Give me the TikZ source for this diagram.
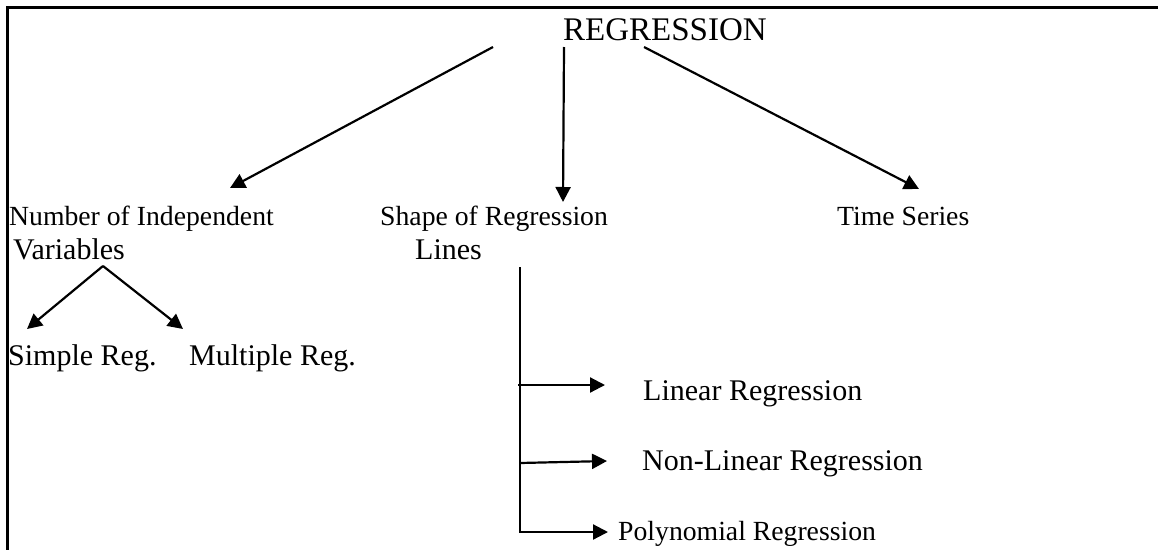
\documentclass[tikz,border=0pt]{standalone}
\usepackage{fontspec}
\setmainfont{Liberation Serif}
\usetikzlibrary{arrows.meta}
\begin{document}
\begin{tikzpicture}[x=1pt,y=-1pt,
  lbl/.style={anchor=base west,inner sep=0pt,font=\fontsize{30}{32}\selectfont},
  lbls/.style={anchor=base west,inner sep=0pt,font=\fontsize{27.7}{30}\selectfont},
  arr/.style={line width=2.2pt,-{Triangle[length=15pt,width=15pt]}},
  ln/.style={line width=2.2pt},
  frame/.style={line width=3pt}]
\useasboundingbox (0,0) rectangle (1158,549);
% frame
\coordinate (fTL) at (7,7);
\coordinate (fTR) at (1160,7);
\coordinate (fBL) at (7,551);
\draw[frame] (fTR) -- (fTL) -- (fBL);
% texts
\node[anchor=base west,inner sep=0pt,font=\fontsize{33}{36}\selectfont] (reg) at (563,40) {REGRESSION};
\node[lbls] (num) at (9,225) {Number of Independent};
\node[lbl] (var) at (13,259) {Variables};
\node[lbls] (shape) at (380,225) {Shape of Regression};
\node[lbl] (lines) at (415,259) {Lines};
\node[lbls] (time) at (837,225) {Time Series};
\node[lbl] (simple) at (8,365) {Simple Reg.};
\node[lbl] (mult) at (189,365) {Multiple Reg.};
\node[lbl] (lin) at (643,400) {Linear Regression};
\node[lbl] (nonlin) at (642,470) {Non-Linear Regression};
\node[lbls] (poly) at (618,540) {Polynomial Regression};
% top arrows
\coordinate (s1) at (493,47);
\coordinate (s2) at (564,47);
\coordinate (s3) at (644,47);
\coordinate (t1) at (230,188);
\coordinate (t2) at (563,202);
\coordinate (t3) at (919,189);
\draw[arr] (s1) -- (t1);
\draw[arr] (s2) -- (t2);
\draw[arr] (s3) -- (t3);
% variables split
\coordinate (apex) at (103,266);
\coordinate (vl) at (27,329);
\coordinate (vr) at (183,329);
\draw[arr] (apex) -- (vl);
\draw[arr] (apex) -- (vr);
% shape branch
\coordinate (vt) at (520,267);
\coordinate (vb) at (520,533);
\draw[ln] (vt) -- (vb);
\coordinate (b1) at (518,385);
\coordinate (b2) at (520,463);
\coordinate (b3) at (520,532);
\coordinate (e1) at (605,385);
\coordinate (e2) at (607,461);
\coordinate (e3) at (608,532);
\draw[arr] (b1) -- (e1);
\draw[arr] (b2) -- (e2);
\draw[arr] (b3) -- (e3);
\end{tikzpicture}
\end{document}
